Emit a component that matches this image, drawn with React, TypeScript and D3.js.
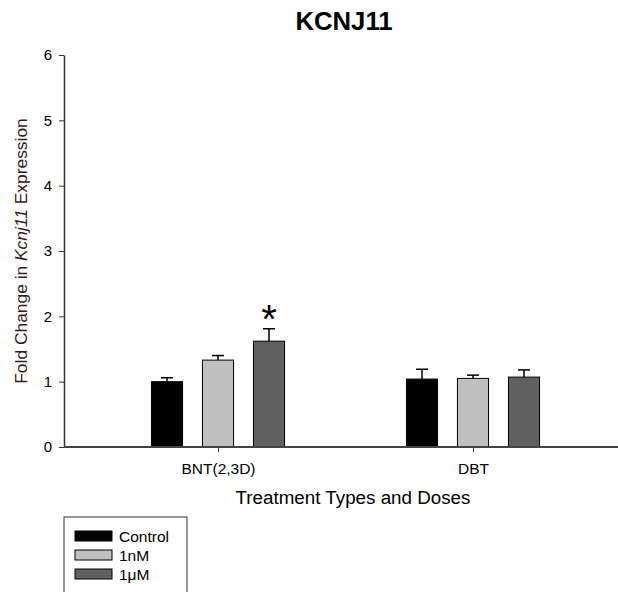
import { useRef, useEffect } from 'react';
import { select, scaleBand, scalePoint, scaleLinear, axisLeft, axisBottom } from 'd3';

// ============================================
// DATA
// ============================================

const categories = ['BNT(2,3D)', 'DBT'];
const doses = ['Control', '1nM', '1μM'];
const doseColors = ['#000000', '#c0c0c0', '#606060'];

// mean fold change per category, per dose
const controlMeans = [1.0, 1.04];
const nMMeans = [1.33, 1.05];
const uMMeans = [1.62, 1.07];

const controlErr = [0.06, 0.15];
const nMErr = [0.07, 0.05];
const uMErr = [0.19, 0.11];

const yTicks = [0, 1, 2, 3, 4, 5, 6];
const significant = [{ category: 'BNT(2,3D)', dose: '1μM' }];

const WIDTH = 618;
const HEIGHT = 592;

export default function App() {
  const svgRef = useRef<SVGSVGElement>(null);

  useEffect(() => {
    document.body.style.margin = '0';
    if (!svgRef.current) return;
    const svg = select(svgRef.current);
    svg.selectAll('*').remove();

    const margin = { top: 55, right: 0, bottom: 145, left: 64 };
    const innerWidth = WIDTH - margin.left - margin.right;
    const innerHeight = HEIGHT - margin.top - margin.bottom;
    const font = 'Arial, "Liberation Sans", sans-serif';

    const g = svg.append('g').attr('transform', `translate(${margin.left},${margin.top})`);

    // group centres sit off-centre in the original (more room on the left)
    const x = scalePoint<string>().domain(categories).range([154, 409]);
    const sub = scaleBand<string>().domain(doses).range([-76.5, 76.5]).paddingInner(0.39).paddingOuter(0.195);
    const y = scaleLinear().domain([0, 6]).range([innerHeight, 0]);

    const meansByDose = [controlMeans, nMMeans, uMMeans];
    const errByDose = [controlErr, nMErr, uMErr];

    // Bars + error bars
    categories.forEach((c, ci) => {
      doses.forEach((d, di) => {
        const bx = (x(c) || 0) + (sub(d) || 0);
        const bw = sub.bandwidth();
        const v = meansByDose[di][ci];
        const e = errByDose[di][ci];
        const cx = bx + bw / 2;

        g.append('line')
          .attr('x1', cx)
          .attr('x2', cx)
          .attr('y1', y(v))
          .attr('y2', y(v + e))
          .attr('stroke', '#000')
          .attr('stroke-width', 1.5);
        g.append('line')
          .attr('x1', cx - 6)
          .attr('x2', cx + 6)
          .attr('y1', y(v + e))
          .attr('y2', y(v + e))
          .attr('stroke', '#000')
          .attr('stroke-width', 1.5);

        g.append('rect')
          .attr('x', bx)
          .attr('y', y(v))
          .attr('width', bw)
          .attr('height', y(0) - y(v))
          .attr('fill', doseColors[di])
          .attr('stroke', '#000')
          .attr('stroke-width', 1);

        if (significant.some((s) => s.category === c && s.dose === d)) {
          g.append('text')
            .attr('x', cx)
            .attr('y', y(v + e) + 4)
            .attr('text-anchor', 'middle')
            .attr('font-family', font)
            .attr('font-size', 40)
            .attr('fill', '#000')
            .text('*');
        }
      });
    });

    // Y axis
    const yAxisG = g.append('g').call(
      axisLeft(y)
        .tickValues(yTicks)
        .tickSize(5)
        .tickSizeOuter(0)
        .tickFormat((d) => String(d))
    );
    yAxisG.select('.domain').attr('stroke', '#333').attr('stroke-width', 1.5);
    yAxisG.selectAll('line').attr('stroke', '#333');
    yAxisG.selectAll('text').attr('font-size', 15).attr('font-family', font).attr('fill', '#000').attr('x', -12);

    // X axis (baseline spans the whole plot width)
    const xAxisG = g
      .append('g')
      .attr('transform', `translate(0,${innerHeight})`)
      .call(axisBottom(x).tickSize(5).tickSizeOuter(0));
    xAxisG.select('.domain').attr('d', `M0,0H${innerWidth}`).attr('stroke', '#444').attr('stroke-width', 2);
    xAxisG.selectAll('.tick line').attr('stroke', '#333');
    xAxisG.selectAll('text').attr('font-size', 15.5).attr('font-family', font).attr('fill', '#000').attr('y', 16);

    // Axis labels
    g.append('text')
      .attr('transform', 'rotate(-90)')
      .attr('x', -y(3))
      .attr('y', -margin.left + 27)
      .attr('text-anchor', 'middle')
      .attr('font-family', font)
      .attr('font-size', 17.4)
      .attr('fill', '#3a1818')
      .html('Fold Change in <tspan font-style="italic">Kcnj11</tspan> Expression');

    g.append('text')
      .attr('x', 289)
      .attr('y', innerHeight + 57)
      .attr('text-anchor', 'middle')
      .attr('font-family', font)
      .attr('font-size', 18.8)
      .attr('fill', '#000')
      .text('Treatment Types and Doses');

    // Title
    svg
      .append('text')
      .attr('x', 344)
      .attr('y', 30)
      .attr('text-anchor', 'middle')
      .attr('font-family', font)
      .attr('font-weight', 'bold')
      .attr('font-size', 25.7)
      .attr('fill', '#000')
      .text('KCNJ11');

    // Legend
    const legend = svg.append('g').attr('transform', 'translate(64,517)');
    legend
      .append('rect')
      .attr('x', 0)
      .attr('y', 0)
      .attr('width', 123)
      .attr('height', 90)
      .attr('fill', '#fff')
      .attr('stroke', '#333')
      .attr('stroke-width', 1);
    doses.forEach((d, i) => {
      legend
        .append('rect')
        .attr('x', 11)
        .attr('y', 14 + i * 19)
        .attr('width', 37)
        .attr('height', 10)
        .attr('fill', doseColors[i])
        .attr('stroke', '#000')
        .attr('stroke-width', 1);
      legend
        .append('text')
        .attr('x', 55)
        .attr('y', 25 + i * 19)
        .attr('font-family', font)
        .attr('font-size', 15.5)
        .attr('fill', '#000')
        .text(d);
    });
  }, []);

  return (
    <div style={{ position: 'absolute', left: 0, top: 0 }}>
      <svg ref={svgRef} width={WIDTH} height={HEIGHT} style={{ display: 'block', background: '#fff' }} />
    </div>
  );
}
